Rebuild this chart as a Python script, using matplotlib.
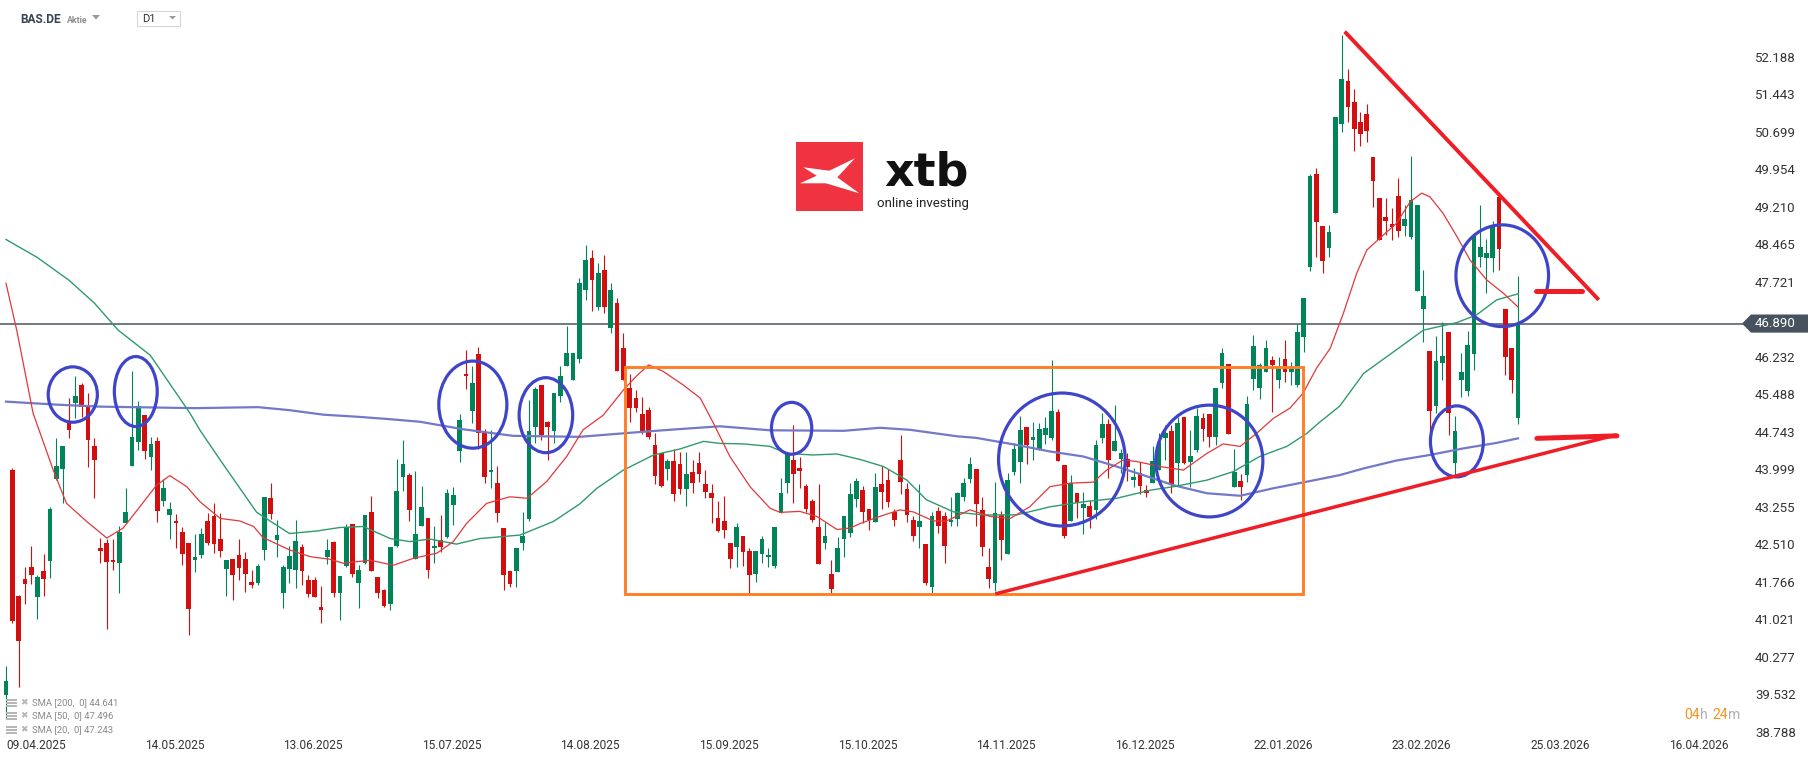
import numpy as np
import matplotlib.pyplot as plt
import matplotlib.transforms as mtransforms
from matplotlib.patches import Ellipse, Rectangle, Polygon

# Roboto for the chart text, DejaVu as fallback for symbols like ✖
plt.rcParams['font.family'] = ['Roboto', 'DejaVu Sans']

# daily candles BAS.DE, index 0 = 09.04.2025
opens = [39.52, 43.98, 41.47, 41.82, 42.05, 41.45, 41.98, 42.18, 43.80, 44.01,
         44.94, 45.32, 45.67, 45.23, 44.45, 42.44, 42.54, 42.20, 42.13, 42.93,
         44.07, 44.54, 45.07, 44.23, 44.56, 43.37, 43.09, 42.97, 42.75, 42.54,
         42.19, 42.29, 42.97, 43.07, 42.61, 42.02, 42.21, 42.29, 42.21, 41.76,
         41.74, 42.40, 43.42, 42.60, 41.54, 42.02, 42.00, 42.45, 41.80, 41.80,
         41.26, 42.26, 42.55, 41.53, 42.08, 42.91, 41.74, 42.14, 43.15, 41.86,
         41.59, 41.33, 42.48, 43.85, 43.88, 42.22, 42.86, 43.03, 42.43, 42.59,
         42.66, 43.29, 44.35, 45.89, 45.16, 46.29, 44.74, 43.95, 43.73, 42.83,
         41.98, 41.97, 42.54, 43.00, 44.84, 45.66, 44.93, 44.76, 45.46, 46.04,
         45.77, 46.18, 47.55, 48.20, 47.21, 47.95, 46.81, 47.30, 46.40, 45.62,
         45.42, 45.09, 45.17, 44.48, 44.31, 44.01, 44.16, 44.10, 43.61, 43.94,
         44.12, 43.70, 43.52, 43.02, 42.97, 42.53, 42.46, 42.67, 42.37, 41.92,
         42.32, 42.26, 42.08, 43.12, 43.73, 44.18, 44.02, 43.66, 43.37, 42.85,
         42.54, 41.92, 41.96, 42.62, 42.73, 43.40, 43.58, 43.21, 42.95, 43.70,
         43.78, 43.14, 44.18, 43.60, 42.99, 42.84, 42.51, 41.66, 43.17, 43.07,
         42.94, 43.00, 43.45, 43.81, 44.00, 43.18, 42.05, 41.73, 43.09, 42.31,
         43.95, 44.15, 44.83, 44.57, 44.38, 44.68, 44.62, 45.13, 44.08, 42.97,
         43.52, 43.23, 43.27, 43.19, 44.62, 44.89, 44.35, 44.21, 44.21, 43.78,
         43.93, 43.58, 43.73, 43.99, 44.61, 44.75, 44.13, 45.03, 44.15, 44.37,
         45.01, 45.09, 44.64, 45.70, 46.08, 43.65, 43.77, 43.89, 45.78, 45.61,
         45.93, 46.16, 45.76, 46.18, 45.93, 45.67, 46.62, 48.02, 49.87, 48.83,
         48.40, 49.09, 50.85, 51.70, 51.30, 50.90, 51.05, 50.19, 49.38, 49.00,
         48.87, 49.42, 48.83, 48.60, 47.54, 47.17, 46.35, 45.26, 46.11, 46.72,
         44.13, 45.76, 45.56, 46.28, 48.21, 48.19, 48.19, 49.40, 47.17, 46.40,
         45.01]
highs = [40.09, 44.02, 41.50, 42.05, 42.47, 41.90, 42.31, 43.25, 44.62, 44.46,
         45.41, 45.85, 45.71, 45.52, 44.62, 42.63, 42.61, 42.61, 42.86, 43.62,
         45.95, 45.36, 45.07, 44.63, 44.63, 43.80, 43.34, 43.10, 42.85, 42.54,
         42.71, 42.83, 43.13, 43.33, 43.13, 42.19, 42.21, 42.61, 42.35, 41.99,
         42.11, 43.44, 43.73, 42.98, 42.09, 42.47, 42.98, 42.51, 41.90, 41.85,
         41.68, 42.61, 42.57, 41.88, 42.91, 42.91, 42.10, 43.09, 43.47, 41.86,
         41.62, 42.46, 44.20, 44.58, 43.93, 43.97, 43.66, 43.03, 42.86, 43.09,
         43.61, 43.64, 45.10, 46.37, 46.04, 46.42, 44.79, 44.78, 44.06, 42.83,
         41.98, 42.43, 43.14, 45.37, 45.64, 45.66, 44.96, 45.52, 46.05, 46.84,
         46.30, 47.80, 48.45, 48.35, 48.10, 48.25, 47.70, 47.40, 46.71, 45.89,
         45.57, 45.43, 45.23, 44.71, 44.31, 44.21, 44.40, 44.33, 44.33, 44.18,
         44.33, 43.98, 43.70, 43.37, 43.47, 42.53, 42.92, 42.67, 42.43, 42.37,
         42.68, 42.43, 42.85, 43.82, 44.31, 44.88, 44.23, 43.70, 43.40, 43.70,
         42.94, 42.19, 42.65, 43.07, 43.73, 43.82, 43.66, 43.21, 43.93, 44.07,
         44.00, 43.21, 44.68, 43.72, 43.07, 43.70, 42.51, 43.15, 43.24, 43.15,
         43.44, 43.54, 43.83, 44.24, 44.00, 43.45, 42.43, 43.74, 43.17, 43.92,
         44.51, 45.06, 44.83, 44.94, 44.91, 45.03, 46.17, 45.20, 44.08, 43.88,
         43.52, 43.54, 43.39, 44.58, 45.11, 44.99, 45.27, 44.40, 44.31, 44.02,
         44.15, 43.68, 44.45, 44.71, 44.88, 44.88, 45.04, 45.03, 44.77, 45.21,
         45.12, 45.09, 45.62, 46.40, 46.08, 44.39, 43.90, 45.46, 46.66, 46.11,
         46.56, 46.24, 46.23, 46.56, 46.13, 46.88, 47.39, 49.86, 49.97, 48.83,
         48.85, 51.00, 52.62, 51.95, 51.55, 51.10, 51.25, 50.19, 49.38, 49.38,
         49.18, 49.78, 49.24, 50.22, 49.24, 47.95, 46.35, 46.64, 46.93, 46.72,
         45.05, 46.30, 46.75, 48.62, 49.24, 48.56, 48.92, 49.45, 47.17, 46.40,
         47.83]
lows = [39.05, 40.95, 39.67, 41.32, 41.72, 41.02, 41.48, 41.84, 43.78, 43.33,
        44.62, 45.02, 45.04, 44.05, 43.43, 42.14, 40.83, 41.99, 41.54, 42.93,
        44.07, 44.37, 44.20, 43.99, 42.95, 43.27, 42.61, 42.43, 42.10, 40.70,
        41.96, 42.24, 42.49, 42.34, 42.26, 41.47, 41.39, 41.80, 41.56, 41.63,
        41.69, 42.20, 43.01, 42.26, 41.25, 41.74, 41.63, 41.70, 41.45, 41.45,
        40.95, 42.12, 41.46, 41.00, 42.06, 41.85, 41.25, 42.12, 41.98, 41.44,
        41.26, 41.20, 42.46, 43.57, 42.97, 42.22, 42.86, 41.84, 42.14, 42.36,
        42.63, 42.89, 44.15, 45.60, 44.91, 44.39, 43.72, 43.62, 42.95, 41.60,
        41.65, 41.65, 42.39, 42.97, 44.51, 44.57, 44.18, 44.51, 45.34, 46.04,
        45.77, 46.10, 47.36, 47.13, 47.15, 47.10, 46.70, 45.95, 45.76, 44.94,
        45.14, 44.70, 44.60, 43.70, 43.64, 43.78, 43.37, 43.50, 43.26, 43.53,
        43.74, 43.43, 42.93, 42.75, 42.63, 42.03, 42.06, 42.08, 41.53, 41.76,
        42.14, 42.06, 42.03, 43.12, 43.53, 43.33, 43.63, 43.15, 42.95, 42.12,
        42.42, 41.54, 41.96, 42.26, 42.66, 43.25, 42.93, 42.79, 42.95, 43.21,
        43.25, 42.86, 43.50, 42.94, 42.58, 42.44, 41.69, 41.54, 42.74, 42.14,
        42.87, 42.87, 43.37, 43.72, 42.86, 42.27, 41.64, 41.57, 42.19, 42.31,
        43.88, 43.72, 44.11, 44.18, 44.38, 44.50, 44.57, 44.17, 42.64, 42.97,
        43.03, 42.72, 42.82, 43.00, 44.52, 43.82, 44.35, 43.93, 43.77, 43.65,
        43.50, 43.45, 43.73, 43.99, 44.18, 43.53, 43.68, 44.10, 43.65, 44.33,
        44.56, 44.43, 44.47, 45.62, 44.69, 43.65, 43.39, 43.75, 45.58, 45.39,
        45.93, 45.14, 45.61, 45.72, 45.67, 45.63, 46.33, 47.94, 48.22, 47.90,
        48.22, 49.09, 50.70, 50.90, 50.31, 50.41, 50.49, 49.21, 48.55, 48.65,
        48.55, 48.61, 48.63, 48.56, 47.54, 46.53, 44.68, 45.11, 45.77, 44.68,
        43.88, 45.44, 45.45, 45.97, 48.01, 47.49, 47.92, 47.95, 45.87, 45.52,
        44.90]
closes = [39.80, 40.99, 40.59, 41.72, 41.90, 41.86, 41.81, 43.21, 44.06, 44.45,
          44.77, 45.45, 45.24, 44.58, 44.18, 42.38, 42.16, 42.15, 42.76, 43.14,
          44.64, 45.25, 44.35, 44.49, 43.17, 43.62, 43.20, 42.92, 42.31, 41.23,
          42.25, 42.71, 42.54, 42.52, 42.38, 42.19, 41.90, 42.04, 41.92, 41.70,
          42.07, 43.44, 43.10, 42.69, 42.05, 42.27, 42.57, 41.98, 41.51, 41.45,
          41.21, 42.40, 41.54, 41.88, 42.85, 41.92, 42.00, 43.09, 41.98, 41.54,
          41.29, 42.46, 43.57, 44.10, 43.19, 42.72, 43.25, 41.99, 42.47, 42.46,
          43.53, 43.48, 44.98, 45.84, 45.70, 44.71, 43.84, 43.99, 43.13, 41.90,
          41.72, 42.43, 42.67, 44.75, 45.60, 44.68, 44.84, 45.52, 45.85, 46.30,
          46.30, 47.69, 48.15, 47.75, 47.90, 47.22, 47.55, 45.95, 45.76, 45.22,
          45.22, 44.74, 44.64, 43.87, 43.66, 44.16, 43.50, 43.61, 43.90, 43.73,
          43.91, 43.55, 43.43, 42.78, 42.80, 42.21, 42.85, 42.36, 41.90, 42.37,
          42.61, 42.30, 42.85, 43.52, 44.31, 43.90, 43.97, 43.21, 42.98, 42.12,
          42.67, 41.62, 42.43, 43.07, 43.51, 43.77, 43.15, 42.98, 43.64, 43.55,
          43.35, 42.98, 43.74, 43.08, 42.68, 42.96, 41.74, 43.07, 42.86, 42.48,
          42.99, 43.52, 43.72, 44.10, 43.30, 42.46, 41.82, 43.13, 42.59, 43.78,
          44.40, 44.78, 44.47, 44.63, 44.80, 44.82, 45.16, 44.17, 42.68, 43.73,
          43.32, 43.31, 43.05, 44.48, 44.89, 44.18, 44.56, 44.31, 44.05, 43.85,
          43.67, 43.53, 44.17, 44.54, 44.72, 43.70, 44.91, 44.13, 44.26, 45.06,
          44.79, 44.64, 45.62, 46.31, 44.69, 43.95, 43.64, 45.30, 46.44, 46.06,
          46.41, 46.07, 46.05, 45.92, 45.98, 46.72, 47.39, 49.82, 48.91, 48.14,
          48.71, 50.99, 51.75, 51.20, 50.75, 50.65, 50.72, 49.73, 48.55, 48.93,
          48.80, 48.73, 48.96, 49.35, 49.24, 47.44, 45.16, 46.14, 46.24, 45.11,
          44.76, 45.92, 46.47, 48.62, 48.42, 48.29, 48.80, 48.37, 46.22, 45.76,
          46.89]

# x axis labels (candle index where each date sits)
date_labels = ['09.04.2025', '14.05.2025', '13.06.2025', '15.07.2025', '14.08.2025',
               '15.09.2025', '15.10.2025', '14.11.2025', '16.12.2025', '22.01.2026',
               '23.02.2026', '25.03.2026', '16.04.2026']
date_idx = [0, 22, 44, 66, 88, 110, 132, 154, 176, 198, 220, 242, 264]

price_labels = ['38.788', '39.532', '40.277', '41.021', '41.766', '42.510', '43.255',
                '43.999', '44.743', '45.488', '46.232', '46.977', '47.721', '48.465',
                '49.210', '49.954', '50.699', '51.443', '52.188']

# moving averages (candle index, value)
sma20_x = [0, 1.7, 4.3, 7.5, 9.6, 12.8, 16, 18.6, 21.3, 23.9, 26, 28.7, 30.8, 34, 37.1,
           39.3, 40.8, 45.1, 48.3, 51.4, 53.5, 57.8, 61.5, 64.7, 68.4, 71, 73.1, 76.3,
           80, 82.7, 85.8, 89, 91.6, 94.8, 98, 100.1, 102, 104.3, 107.5, 110.2, 112.3,
           114.9, 118.1, 121.3, 122.9, 126, 128.7, 131.9, 134, 135.6, 138.7, 141.9, 144,
           147.2, 149.3, 153, 156.2, 159.4, 162.5, 165.7, 168.9, 172.6, 174.7, 177.3,
           179.5, 183.2, 186.9, 190.6, 193.2, 195.9, 198.5, 201.2, 203.8, 205.9, 208,
           210.2, 212.3, 214.4, 216, 218.1, 220.7, 222.9, 224.7, 226, 228.1, 230.3,
           232.4, 235, 237.7, 240]
sma20_y = [47.69, 46.76, 45.11, 43.98, 43.32, 42.96, 42.63, 42.83, 43.26, 43.68, 43.87,
           43.65, 43.35, 43.02, 42.97, 42.86, 42.64, 42.39, 42.26, 42.21, 42.13, 42.19,
           42.09, 42.23, 42.33, 42.56, 42.92, 43.32, 43.45, 43.42, 43.75, 44.25, 44.78,
           45.07, 45.57, 45.85, 46.07, 45.94, 45.67, 45.41, 44.91, 44.25, 43.65, 43.22,
           43.14, 43.16, 43.06, 42.80, 42.83, 42.92, 43.06, 43.19, 43.15, 42.97, 42.97,
           43.19, 43.06, 43.02, 43.25, 43.65, 43.72, 43.74, 43.98, 44.18, 44.15, 44.05,
           43.98, 44.31, 44.50, 44.45, 44.71, 45.01, 45.21, 45.51, 46.00, 46.40, 47.10,
           47.89, 48.35, 48.59, 48.88, 49.31, 49.48, 49.41, 49.08, 48.62, 48.15, 47.76,
           47.49, 47.22]
sma50_x = [0, 5, 10, 14, 17.8, 22.9, 29.2, 30.8, 34, 39.8, 45, 49.3, 53, 56.7, 61, 64.1,
           67.3, 71.5, 75.2, 81.6, 86.9, 91.1, 93.8, 98, 102.8, 107, 110.7, 113.3, 117,
           121.3, 123.9, 128.1, 131.9, 135.6, 139.3, 143, 146.1, 150.4, 155.1, 160.4,
           165.7, 171, 176.3, 181.6, 185.3, 190.6, 194.8, 199, 203.3, 206.5, 208.6,
           211.7, 215.5, 220.7, 225, 230.3, 233.4, 236.6, 240]
sma50_y = [48.56, 48.20, 47.75, 47.30, 46.76, 46.26, 45.11, 44.77, 44.18, 43.14, 42.72,
           42.77, 42.84, 42.86, 42.62, 42.56, 42.61, 42.51, 42.62, 42.69, 42.96, 43.31,
           43.62, 43.98, 44.28, 44.40, 44.55, 44.51, 44.50, 44.45, 44.31, 44.28, 44.30,
           44.19, 44.05, 43.78, 43.39, 43.15, 43.09, 43.09, 43.25, 43.35, 43.42, 43.58,
           43.65, 43.78, 43.95, 44.25, 44.45, 44.71, 44.94, 45.25, 45.90, 46.37, 46.76,
           46.91, 47.06, 47.36, 47.48]
sma200_x = [0, 8, 15, 30, 40, 45, 50.4, 55.7, 61, 65.7, 72.6, 80.5, 91, 100, 105.3, 113.3,
            121.3, 133, 138.7, 143.5, 151, 154, 160.4, 165.7, 171, 176.3, 181, 185.3,
            190.6, 195.9, 201.2, 206.5, 211.7, 215.4, 220.7, 226, 231.3, 236.6, 240]
sma200_y = [45.34, 45.28, 45.24, 45.21, 45.23, 45.17, 45.08, 45.04, 44.99, 44.94, 44.79,
            44.66, 44.64, 44.73, 44.78, 44.85, 44.77, 44.76, 44.82, 44.78, 44.65, 44.62,
            44.48, 44.35, 44.25, 44.05, 43.86, 43.68, 43.52, 43.47, 43.62, 43.75, 43.88,
            44.01, 44.17, 44.28, 44.41, 44.52, 44.61]

# hand drawn analysis: range box, circles (x, y, width, height), trend lines
range_box_x = [98.2, 205.9]
range_box_y = [41.51, 46.02]
circles = [(10.6, 45.48, 7.8, 1.10), (20.6, 45.54, 6.8, 1.39), (74.1, 45.28, 10.8, 1.73),
           (85.7, 45.07, 8.5, 1.49), (124.7, 44.81, 6.4, 1.03), (167.6, 44.19, 20.1, 2.64),
           (191.0, 44.16, 17.0, 2.22), (237.5, 47.84, 14.7, 2.02), (230.3, 44.55, 8.4, 1.41)]
support_x, support_y = [157.3, 255.3], [41.53, 44.67]
resist_x, resist_y = [212.7, 252.6], [52.66, 47.39]
mark_hi_x, mark_hi_y = [242.9, 250.2], [47.54, 47.54]
mark_lo_x, mark_lo_y = [243.0, 255.7], [44.61, 44.66]

GREEN = '#01845a'
RED = '#d30e0e'

W, H = 1815, 761
fig = plt.figure(figsize=(W / 100, H / 100), dpi=100)
fig.patch.set_facecolor('white')

# main chart area: candle i sits at pixel 6 + 6.3*i
ax = fig.add_axes([0, 1 - 737 / H, 1745 / W, 737 / H])
ax.set_xlim(-6 / 6.3, (1745 - 6) / 6.3)
ax.set_ylim(38.679, 53.316)

o = np.array(opens)
h = np.array(highs)
l = np.array(lows)
c = np.array(closes)
x = np.arange(len(c))
up = c >= o
cols = np.where(up, GREEN, RED)

# wicks + bodies
ax.vlines(x, l, h, colors=cols, linewidth=0.8, zorder=2)
body = np.maximum(np.abs(c - o), 0.03)
ax.bar(x, body, bottom=np.minimum(o, c), width=0.76, color=cols, linewidth=0, zorder=3)

# SMA lines
ax.plot(sma200_x, sma200_y, color='#7379c9', lw=1.6, zorder=4)
ax.plot(sma50_x, sma50_y, color='#2f9b6c', lw=1.0, zorder=4)
ax.plot(sma20_x, sma20_y, color='#e2383a', lw=0.9, zorder=4)

# current price line
ax.axhline(closes[-1], color='#4a5662', lw=1.1, zorder=1)

# annotations
ax.add_patch(Rectangle((range_box_x[0], range_box_y[0]), range_box_x[1] - range_box_x[0],
                       range_box_y[1] - range_box_y[0], fill=False, ec='#ff7f27', lw=2.1, zorder=5))
for cx, cy, ew, eh in circles:
    ax.add_patch(Ellipse((cx, cy), ew, eh, fill=False, ec='#3e45c9', lw=2.3, zorder=6))
ax.plot(support_x, support_y, color='#ee1d26', lw=2.5, zorder=6)
ax.plot(resist_x, resist_y, color='#ee1d26', lw=2.8, zorder=6)
ax.plot(mark_hi_x, mark_hi_y, color='#ee1d26', lw=3.6, solid_capstyle='round', zorder=6)
ax.plot(mark_lo_x, mark_lo_y, color='#ee1d26', lw=3.6, solid_capstyle='round', zorder=6)

# axes styling
for s in ax.spines.values():
    s.set_visible(False)
ax.yaxis.tick_right()
ax.set_yticks([float(p) for p in price_labels])
ax.set_yticklabels(price_labels)
ax.tick_params(axis='y', length=0, pad=7.2, labelsize=9.5, labelcolor='#333333')
ax.set_xticks(date_idx)
ax.set_xticklabels(date_labels, ha='left')
ax.tick_params(axis='x', length=0, pad=1.5, labelsize=8.6, labelcolor='#333333')

# price tag on the right axis
tr = mtransforms.blended_transform_factory(ax.transAxes, ax.transData)
p = closes[-1]
hh = 0.18
tag = Polygon([(0.9983, p), (1.0034, p + hh), (1.0361, p + hh), (1.0361, p - hh), (1.0034, p - hh)],
              closed=True, fc='#46535e', ec='none', transform=tr, clip_on=False, zorder=10)
ax.add_patch(tag)
ax.text(1.0057, p, f'{p:.3f}', transform=tr, color='white', fontsize=9.5,
        va='center', ha='left', zorder=11, clip_on=False)

# overlay in pixel coordinates for header, logo, legend, timer
ov = fig.add_axes([0, 0, 1, 1])
ov.set_xlim(0, W)
ov.set_ylim(H, 0)
ov.axis('off')

ov.text(20.7, 19.5, 'BAS.DE', fontsize=8.6, fontweight='bold', color='#34434f', va='center')
ov.text(67, 20.5, 'Aktie', fontsize=6.3, fontweight='bold', color='#8c8c8c', va='center')
ov.add_patch(Polygon([(92, 15), (100, 15), (96, 19.5)], fc='#9a9a9a', ec='none'))
ov.add_patch(Rectangle((137, 11), 42.7, 14.7, fc='white', ec='#d6d6d6', lw=0.8))
ov.text(142.5, 19.3, 'D1', fontsize=8, color='#333333', va='center')
ov.add_patch(Polygon([(169, 16), (176, 16), (172.5, 19.5)], fc='#9a9a9a', ec='none'))

# xtb logo
ov.add_patch(Rectangle((796, 142.3), 67.3, 68.7, fc='#ef3340', ec='none'))
ov.add_patch(Polygon([(803.3, 167.3), (829.3, 170.7), (855, 158.3), (837.3, 177.3),
                      (859.3, 193.3), (826, 183.3), (800, 183.3), (816.7, 175.7)],
                     closed=True, fc='white', ec='none'))
ov.text(926.7, 186, 'xtb', family='DejaVu Sans', fontsize=33, fontweight='bold',
        color='#111111', ha='center', va='baseline')
ov.text(876.7, 207, 'online investing', fontsize=9.5, color='#222222', va='baseline')

# indicator legend bottom left
legend_rows = [(702.5, 'SMA [200,  0] 44.641'), (716, 'SMA [50,  0] 47.496'),
               (730, 'SMA [20,  0] 47.243')]
for yy, txt in legend_rows:
    for dy in (-3, 0, 3):
        ov.plot([7, 16], [yy + dy, yy + dy], color='#b5b5b5', lw=1.4)
    ov.text(24, yy, '✖', fontsize=6.5, color='#b5b5b5', ha='center', va='center')
    ov.text(31.7, yy, txt, fontsize=6.8, color='#8a8a8a', va='center')

# countdown timer
for txt, xx, col in [('04', 1684, '#f7931e'), ('h', 1700, '#b0b0b0'),
                     ('24', 1712, '#f7931e'), ('m', 1728, '#b0b0b0')]:
    ov.text(xx, 715, txt, fontsize=10, color=col, va='center', ha='left')

plt.savefig('out.png', dpi=100)
